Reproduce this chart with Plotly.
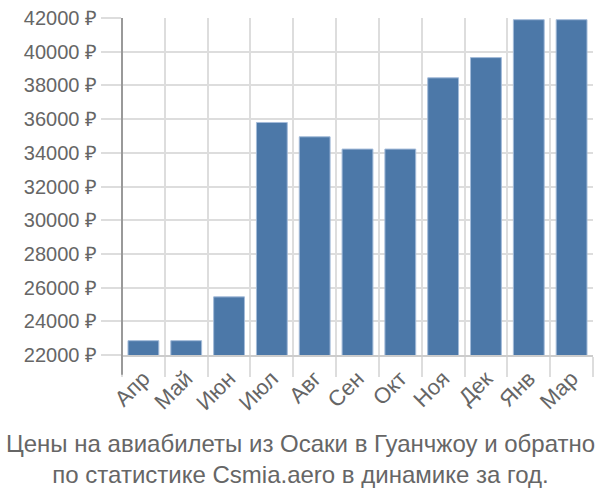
import plotly.graph_objects as go

months = ["Апр", "Май", "Июн", "Июл", "Авг", "Сен", "Окт", "Ноя", "Дек", "Янв", "Мар"]
prices = [22850, 22850, 25450, 35800, 34950, 34220, 34220, 38450, 39650, 41900, 41900]
title_lines = ["Цены на авиабилеты из Осаки в Гуанчжоу и обратно",
               "по статистике Csmia.aero в динамике за год."]

font_family = "Liberation Sans, Arial, sans-serif"
grid_c = "#dddddd"
text_c = "#666666"

fig = go.Figure(go.Bar(
    x=months, y=prices,
    marker=dict(color="#4c78a8", line=dict(color="#a3bbd9", width=1)),
    hoverinfo="x+y",
))

fig.update_layout(
    width=600, height=500,
    margin=dict(l=122, r=7, t=14, b=145),
    paper_bgcolor="white", plot_bgcolor="white",
    bargap=0.28,
    showlegend=False,
    font=dict(family=font_family, size=18, color=text_c),
    annotations=[dict(
        text="<br>".join(title_lines), xref="paper", yref="paper",
        x=(300 - 122) / 471, y=-(460 - 355) / 341, xanchor="center", yanchor="middle",
        showarrow=False, font=dict(family=font_family, size=24, color=text_c),
        align="center",
    )],
    shapes=[dict(type="line", xref="paper", yref="paper", x0=0, x1=0,
                 y0=-20 / 341, y1=1, line=dict(color="#999999", width=2))],
)

fig.update_xaxes(
    type="category", tickangle=-45, tickson="boundaries",
    ticks="outside", ticklen=20, tickcolor=grid_c, tickwidth=2,
    showgrid=True, gridcolor=grid_c, gridwidth=2,
    showline=True, linecolor="#cccccc", linewidth=2,
    tickfont=dict(size=22, color=text_c),
)
fig.update_yaxes(
    range=[22000, 42000], dtick=2000, tickformat="d", ticksuffix=" ₽",
    ticks="outside", ticklen=20, tickcolor=grid_c, tickwidth=2,
    showgrid=True, gridcolor=grid_c, gridwidth=2,
    showline=False, zeroline=False,
    tickfont=dict(size=20, color=text_c),
)

fig.write_html("out.html")
